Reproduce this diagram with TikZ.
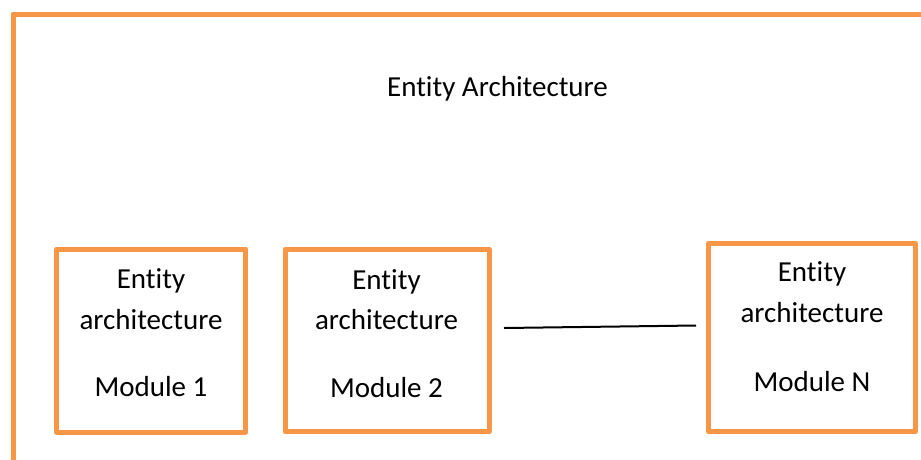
\documentclass[tikz,border=0pt]{standalone}
\usepackage{fontspec}
\setmainfont{Carlito}[Ligatures=NoCommon]
\definecolor{frameorange}{HTML}{F79646}
\begin{document}
\begin{tikzpicture}[x=1pt,y=-1pt,
  frameline/.style={draw=frameorange,line width=5pt,line join=round},
  modbox/.style={draw=frameorange,line width=5pt,line join=round,rectangle,inner sep=0pt},
  txt/.style={font=\fontsize{29}{40.5}\selectfont,align=center,inner sep=0pt,anchor=base},
  link/.style={draw=black,line width=2pt}]
\useasboundingbox (0,0) rectangle (921,459);
% outer frame
\coordinate (fb) at (13,470);
\coordinate (fc) at (13,14);
\coordinate (fr) at (930,14);
\draw[frameline] (fb) -- (fc) -- (fr);
% title
\node[txt] (title) at (497.5,96) {Entity Architecture};
% module boxes
\node[modbox,minimum width=189pt,minimum height=183pt] (m1) at (151,340.5) {};
\node[modbox,minimum width=204.5pt,minimum height=182pt] (m2) at (387.25,340.5) {};
\node[modbox,minimum width=207pt,minimum height=188pt] (mN) at (812,337.5) {};
% texts
\node[txt] (t1) at (151,396.7) {Entity\\architecture\\[27pt]Module 1};
\node[txt] (t2) at (386.5,397) {Entity\\architecture\\[27pt]Module 2};
\node[txt] (tN) at (812,391.7) {Entity\\architecture\\[29pt]Module N};
% connector
\coordinate (c1) at (504,328);
\coordinate (c2) at (696,325.5);
\draw[link] (c1) -- (c2);
\end{tikzpicture}
\end{document}
